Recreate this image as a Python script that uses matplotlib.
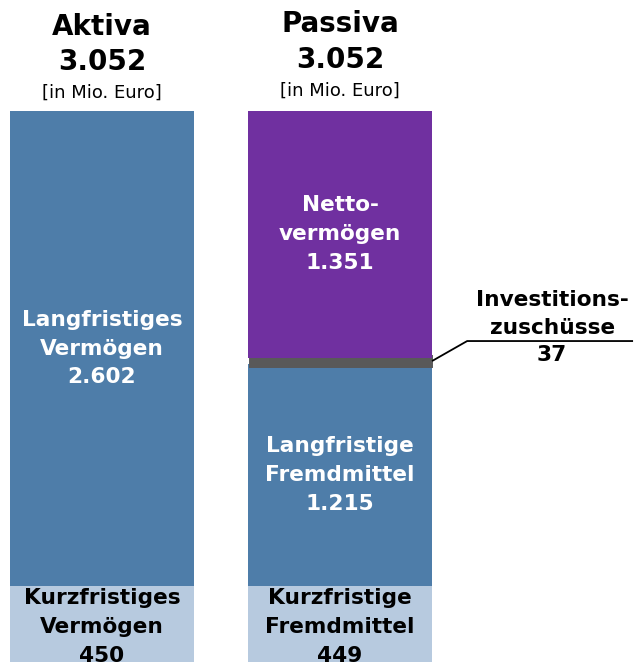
import numpy as np
import matplotlib
matplotlib.use("Agg")
import matplotlib.pyplot as plt

# %%
# data

sides = ["Aktiva", "Passiva"]
totals = ["3.052", "3.052"]
unit_label = "[in Mio. Euro]"

# segments from bottom to top
aktiva_values = [450, 2602]
aktiva_labels = ["Kurzfristiges\nVermögen\n450", "Langfristiges\nVermögen\n2.602"]
passiva_values = [449, 1215, 37, 1351]
passiva_labels = ["Kurzfristige\nFremdmittel\n449", "Langfristige\nFremdmittel\n1.215",
                  "Investitions-\nzuschüsse\n37", "Netto-\nvermögen\n1.351"]

# %%
# styles

col_blue = "#4e7da9"
col_light = "#b7cadf"
col_purple = "#7030a0"
col_grey = "#595959"
aktiva_colors = [col_light, col_blue]
passiva_colors = [col_light, col_blue, col_grey, col_purple]
aktiva_text = ["black", "white"]
passiva_text = ["black", "white", None, "white"]

bar_width = 0.773
font_size = 15.6
line_sp = 1.56
grey_lw = 5.0  # pt, thickens the small grey band

fig = plt.figure(figsize=(6.39, 6.62), dpi=100)
ax = fig.add_axes([0, 0, 1, 1])
ax.set_xlim(-0.4286, 2.256)
ax.set_ylim(34, 3660)
ax.axis("off")

def draw_stack(ax, x, values, colors, labels, text_cols):
    bottom = 0
    for v, c, lab, tc in zip(values, colors, labels, text_cols):
        if c == col_grey:
            # shrink width so the stroke stays inside the bar outline
            ax.bar(x, v, bottom=bottom, width=bar_width - grey_lw / 72 * 100 / 238, color=c,
                   edgecolor=c, linewidth=grey_lw, joinstyle="miter")
        else:
            ax.bar(x, v, bottom=bottom, width=bar_width, color=c, linewidth=0)
        if tc is not None:
            ax.text(x, bottom + v / 2, lab, ha="center", va="center", color=tc,
                    fontsize=font_size, fontweight="bold", linespacing=line_sp)
        bottom += v
    return bottom

top_a = draw_stack(ax, 0, aktiva_values, aktiva_colors, aktiva_labels, aktiva_text)
top_p = draw_stack(ax, 1, passiva_values, passiva_colors, passiva_labels, passiva_text)

# headers
for i, (name, tot) in enumerate(zip(sides, totals)):
    ax.text(i, 3512 + i * 15, name, ha="center", va="center", fontsize=20, fontweight="bold")
    ax.text(i, 3320 + i * 12, tot, ha="center", va="center", fontsize=20, fontweight="bold")
    ax.text(i, 3151 + i * 12, unit_label, ha="center", va="center", fontsize=13)

# leader line for Investitionszuschüsse
grey_mid = passiva_values[0] + passiva_values[1] + passiva_values[2] / 2
ax.plot([1 + bar_width / 2, 1.534, 2.231], [grey_mid, 1792, 1792], color="black", lw=1.3,
        solid_capstyle="butt")
ax.text(1.891, 1866, passiva_labels[2], ha="center", va="center", color="black",
        fontsize=font_size, fontweight="bold", linespacing=1.48)

fig.savefig("out.png", dpi=100)
